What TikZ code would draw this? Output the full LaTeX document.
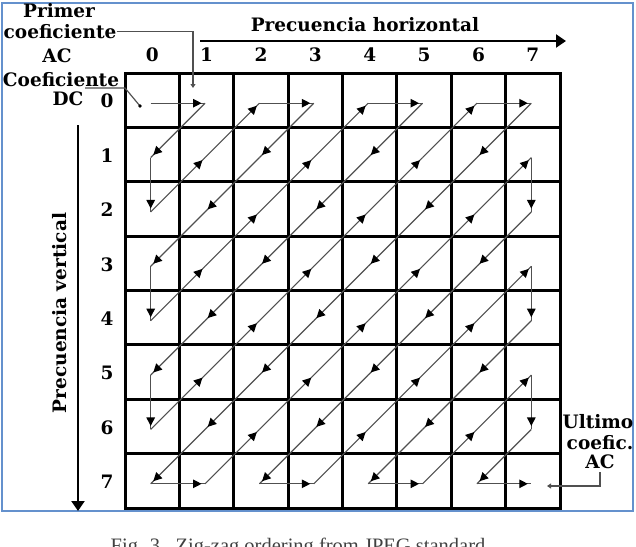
\documentclass[tikz,border=0pt]{standalone}
\usepackage{fontspec}
\setmainfont{DejaVu Serif}
\newfontfamily\capfont{Liberation Serif}
\usetikzlibrary{arrows.meta,decorations.markings}
\definecolor{frameblue}{RGB}{100,145,205}
\definecolor{zzgray}{RGB}{80,80,80}
\begin{document}
\begin{tikzpicture}[x=1pt,y=-1pt,
  lbl/.style={font=\bfseries\fontsize{18.5}{20}\selectfont, inner sep=0pt},
  gridline/.style={line width=3pt, line cap=rect},
  zz/.style={line width=1.2pt, draw=zzgray},
  zarr/.style={postaction={decorate}, decoration={markings, mark=at position -3.5pt with {\arrow[black]{Triangle[length=8.5pt,width=8.5pt]}}}},
  leader/.style={line width=1.2pt, draw=zzgray},
  axis/.style={line width=2.2pt, -{Triangle[length=10pt,width=13pt]}},
]
\useasboundingbox (0,0) rectangle (636,546);
\draw[line width=2pt, draw=frameblue] (1.5,3) rectangle (632.5,511);

% grid
\foreach \i in {0,...,8} {
  \draw[gridline] ({125+54.375*\i},73) -- ({125+54.375*\i},508);
  \draw[gridline] (125,{73+54.375*\i}) -- (560,{73+54.375*\i});
}

% zig-zag vertices
\foreach \c/\r [count=\i] in {0/0,1/0,0/1,0/2,1/1,2/0,3/0,2/1,1/2,0/3,0/4,1/3,2/2,3/1,4/0,5/0,4/1,3/2,2/3,1/4,0/5,0/6,1/5,2/4,3/3,4/2,5/1,6/0,7/0,6/1,5/2,4/3,3/4,2/5,1/6,0/7,1/7,2/6,3/5,4/4,5/3,6/2,7/1,7/2,6/3,5/4,4/5,3/6,2/7,3/7,4/6,5/5,6/4,7/3,7/4,6/5,5/6,4/7,5/7,6/6,7/5,7/6,6/7,7/7}
  \coordinate (z\i) at ({125+54.375*(\c+0.5)-1.5},{73+54.375*(\r+0.5)+3});

\foreach \i [evaluate=\i as \j using {int(\i+1)}] in {1,...,63}
  \draw[zz, zarr] (z\i) -- (z\j);

% column and row numbers
\foreach \c in {0,...,7}
  \node[lbl] (col\c) at ({125+54.375*(\c+0.5)},55) {\c};
\foreach \r in {0,...,7}
  \node[lbl] (row\r) at (107,{73+54.375*(\r+0.5)+1}) {\r};

% axes
\coordinate (hA) at (200,41);
\coordinate (hB) at (566,41);
\draw[axis] (hA) -- (hB);
\node[lbl, anchor=base] (phor) at (365,31) {Precuencia horizontal};
\coordinate (vA) at (78,125);
\coordinate (vB) at (78,511);
\draw[axis] (vA) -- (vB);
\node[lbl, rotate=90] (pver) at (60,313) {Precuencia vertical};

% first AC coefficient label
\node[lbl, anchor=base] (primer) at (59,17) {Primer};
\node[lbl, anchor=base] (coef1) at (60,38) {coeficiente};
\node[lbl, anchor=base] (ac1) at (57,62) {AC};
\coordinate (pa) at (193,88);
\draw[leader, -{Triangle[length=4pt,width=5pt]}] (coef1.east) -- (coef1.east -| pa) -- (pa);

% DC coefficient label
\node[lbl, anchor=base] (coefdc) at (61,86) {Coeficiente};
\node[lbl, anchor=base] (dc) at (68,105) {DC};
\coordinate (dcA) at (85,88);
\coordinate (dcB) at (125,88);
\coordinate (dcdot) at (140,106);
\draw[leader] (dcA) -- (dcB) -- (dcdot);
\fill[black] (dcdot) circle (1.8);

% last AC coefficient label
\node[lbl, anchor=base] (ult) at (598,428) {Ultimo};
\node[lbl, anchor=base] (coef2) at (600,449) {coefic.};
\node[lbl, anchor=base] (ac2) at (600,468) {AC};
\coordinate (ultEnd) at (547,486);
\draw[leader, -{Triangle[length=4pt,width=5pt]}] (ac2.south) ++(0,4) -- (ac2.south |- ultEnd) -- (ultEnd);

% caption (cut off by the page edge, as in the reference)
\node[font=\capfont\fontsize{20.5}{23}\selectfont, text=black!75, anchor=base] (cap) at (298,552) {Fig. 3.\enspace Zig-zag ordering from JPEG standard};
\end{tikzpicture}
\end{document}
